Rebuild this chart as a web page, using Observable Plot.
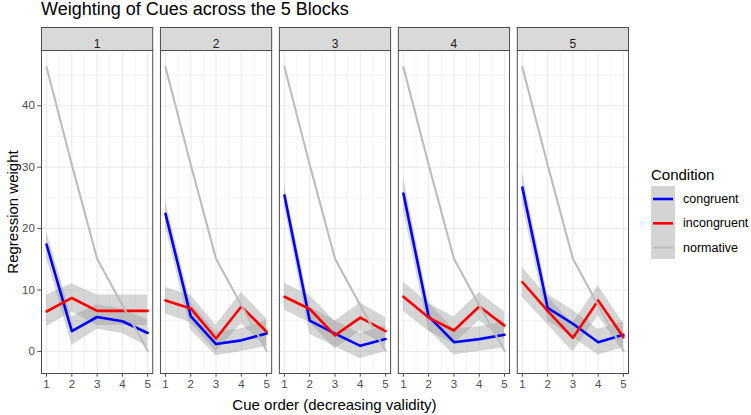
<!DOCTYPE html>
<html><head><meta charset="utf-8">
<script src="https://cdn.jsdelivr.net/npm/d3@7"></script>
<script src="https://cdn.jsdelivr.net/npm/@observablehq/plot@0.6"></script>
<style>
body{margin:0;background:#fff;font-family:"Liberation Sans",Arial,Helvetica,sans-serif;}
#wrap{position:relative;width:751px;height:415px;overflow:hidden;}
#wrap svg{position:absolute;left:0;top:0;}
.t{position:absolute;white-space:nowrap;}
.title{left:41px;top:-1px;font-size:18px;line-height:20px;color:#000;}
.ytitle{left:-149.5px;top:201.5px;width:323px;height:20px;line-height:20px;font-size:15px;text-align:center;transform:rotate(-90deg);color:#000;}
.xtitle{left:41px;top:395px;width:587px;line-height:20px;font-size:15px;text-align:center;color:#000;}
.ltitle{left:651px;top:165px;line-height:20px;font-size:15px;color:#000;}
.llab{left:683px;line-height:20px;font-size:12.5px;color:#000;}
</style></head><body><div id="wrap"></div>
<script>
const titleText = "Weighting of Cues across the 5 Blocks";
const xTitle = "Cue order (decreasing validity)";
const yTitle = "Regression weight";
const legendTitle = "Condition";
const blocks = [1, 2, 3, 4, 5];
const cues = [1, 2, 3, 4, 5];
const conditions = ["congruent", "incongruent", "normative"];
const conditionColors = ["#0000ff", "#ff0000", "#bdbdbd"];
const yTicks = [0, 10, 20, 30, 40];
const yMinor = [5, 15, 25, 35, 45];
const xMinor = [1.5, 2.5, 3.5, 4.5];

const normative = [46.3, 30.4, 15.1, 7.5, 0.1];

const congruentMean = [
  [17.4, 3.3, 5.6, 4.9, 3.0],
  [22.4, 5.7, 1.2, 1.8, 2.9],
  [25.4, 5.0, 2.9, 0.9, 2.0],
  [25.7, 5.7, 1.5, 2.0, 2.7],
  [26.7, 7.1, 4.5, 1.5, 2.7]
];
const congruentLo = [
  [15.3, 1.0, 3.6, 2.9, 0.8],
  [20.3, 3.5, -0.7, 0.0, 0.8],
  [23.5, 2.8, 0.8, -1.2, 0.0],
  [23.0, 3.5, -0.6, 0.0, 0.6],
  [24.2, 5.0, 2.3, -0.6, 0.6]
];
const congruentHi = [
  [19.5, 5.6, 7.6, 6.9, 5.1],
  [24.5, 7.9, 3.1, 3.7, 5.0],
  [27.3, 7.2, 5.0, 2.9, 4.2],
  [28.4, 7.9, 3.6, 4.0, 4.8],
  [29.2, 9.3, 6.7, 3.6, 4.8]
];
const incongruentMean = [
  [6.5, 8.7, 6.6, 6.6, 6.6],
  [8.3, 7.0, 2.1, 7.3, 3.2],
  [8.9, 6.9, 2.6, 5.5, 3.3],
  [8.9, 5.5, 3.4, 7.3, 4.2],
  [11.3, 6.6, 2.2, 8.3, 2.3]
];
const incongruentLo = [
  [4.0, 6.4, 4.2, 4.2, 4.2],
  [6.1, 4.7, -0.1, 4.5, 0.7],
  [6.7, 4.7, 0.4, 3.3, 1.0],
  [6.5, 3.3, 1.2, 5.0, 1.9],
  [8.8, 4.4, -0.1, 5.8, 0.0]
];
const incongruentHi = [
  [9.2, 11.0, 9.2, 9.2, 9.2],
  [10.4, 9.1, 4.3, 9.6, 5.3],
  [11.1, 9.1, 4.9, 7.9, 5.5],
  [11.3, 7.8, 5.6, 9.6, 6.4],
  [13.7, 8.9, 4.6, 10.7, 4.6]
];

const rows = [];
blocks.forEach((b, i) => cues.forEach((c, j) => {
  rows.push({block: b, cue: c, condition: "congruent", w: congruentMean[i][j], lo: congruentLo[i][j], hi: congruentHi[i][j]});
  rows.push({block: b, cue: c, condition: "incongruent", w: incongruentMean[i][j], lo: incongruentLo[i][j], hi: incongruentHi[i][j]});
  rows.push({block: b, cue: c, condition: "normative", w: normative[j]});
}));
const ribbons = rows.filter(d => d.condition !== "normative");
const colored = rows.filter(d => d.condition !== "normative");
const norm = rows.filter(d => d.condition === "normative");

const H = 415, MT = 50, MB = 42;
const plot = Plot.plot({
  width: 751, height: H,
  marginTop: MT, marginBottom: MB, marginLeft: 41, marginRight: 123,
  style: {fontFamily: "'Liberation Sans', Arial, Helvetica, sans-serif", background: "#fff"},
  x: {domain: [0.8, 5.2]},
  y: {domain: [-3.6, 49]},
  fx: {domain: blocks, paddingInner: 0.065, paddingOuter: 0, axis: null, round: false},
  color: {domain: conditions, range: conditionColors},
  marks: [
    Plot.frame({fill: "#d9d9d9", stroke: "#4d4d4d", strokeWidth: 1, insetTop: -23, insetBottom: H - MT - MB}),
    Plot.gridX(xMinor, {stroke: "#ebebeb", strokeOpacity: 1, strokeWidth: 0.6}),
    Plot.gridY(yMinor, {stroke: "#ebebeb", strokeOpacity: 1, strokeWidth: 0.6}),
    Plot.gridX(cues, {stroke: "#ebebeb", strokeOpacity: 1, strokeWidth: 1.1}),
    Plot.gridY(yTicks, {stroke: "#ebebeb", strokeOpacity: 1, strokeWidth: 1.1}),
    Plot.areaY(ribbons, {fx: "block", x: "cue", y1: "lo", y2: "hi", z: "condition", fill: "#999999", fillOpacity: 0.4}),
    Plot.line(colored, {fx: "block", x: "cue", y: "w", z: "condition", stroke: "condition", strokeWidth: 2.6}),
    Plot.line(norm, {fx: "block", x: "cue", y: "w", stroke: "condition", strokeWidth: 2.1}),
    Plot.frame({stroke: "#4d4d4d", strokeWidth: 1}),
    Plot.text(blocks, {fx: d => d, text: d => String(d), frameAnchor: "top", dy: -11.5, fontSize: 12, fill: "#1a1a1a"}),
    Plot.axisY(yTicks, {tickSize: 3.7, tickPadding: 3, fontSize: 11.5, color: "#4d4d4d", label: null}),
    Plot.axisX(cues, {tickSize: 3.7, tickPadding: 3, fontSize: 11.5, color: "#4d4d4d", label: null, tickFormat: d => String(d)})
  ]
});

const wrap = document.getElementById("wrap");
wrap.appendChild(plot);
function addText(cls, txt, top) {
  const d = document.createElement("div");
  d.className = "t " + cls;
  d.textContent = txt;
  if (top !== undefined) d.style.top = top + "px";
  wrap.appendChild(d);
  return d;
}
addText("title", titleText);
addText("ytitle", yTitle);
addText("xtitle", xTitle);
addText("ltitle", legendTitle);

// legend keys
const ns = "http://www.w3.org/2000/svg";
const lg = document.createElementNS(ns, "svg");
lg.setAttribute("width", 26); lg.setAttribute("height", 74);
lg.style.position = "absolute"; lg.style.left = "650px"; lg.style.top = "186px";
const bg = document.createElementNS(ns, "rect");
bg.setAttribute("x", 1); bg.setAttribute("y", 0); bg.setAttribute("width", 24); bg.setAttribute("height", 73);
bg.setAttribute("fill", "#d4d4d4");
lg.appendChild(bg);
conditions.forEach((c, i) => {
  const l = document.createElementNS(ns, "line");
  const yy = 13 + i * 24.3;
  l.setAttribute("x1", 3); l.setAttribute("x2", 23);
  l.setAttribute("y1", yy); l.setAttribute("y2", yy);
  l.setAttribute("stroke", conditionColors[i]);
  l.setAttribute("stroke-width", i < 2 ? 2.6 : 2.1);
  lg.appendChild(l);
  addText("llab", c, 186 + yy - 10);
});
wrap.appendChild(lg);
</script>
</body></html>
